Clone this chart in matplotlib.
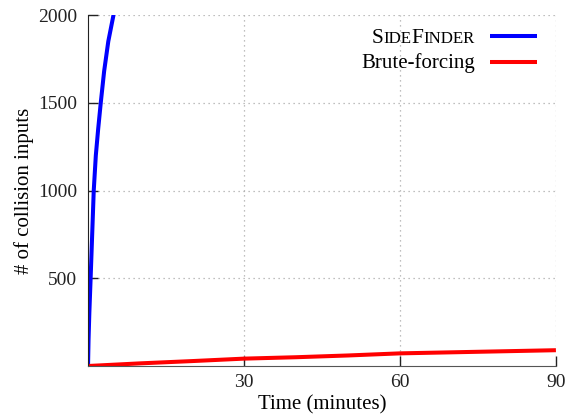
import matplotlib
matplotlib.use("Agg")
import matplotlib.pyplot as plt
import numpy as np

plt.rcParams['font.family'] = ['Liberation Serif', 'DejaVu Serif']

# Data
side_t = [0, 0.1, 0.25, 0.5, 0.8, 1.1, 1.5, 1.95, 2.45, 3.1, 3.9, 4.9, 6.0]
side_n = [0, 150, 300, 500, 750, 1000, 1200, 1350, 1500, 1680, 1850, 2000, 2150]
brute_t = [0, 10, 20, 30, 40, 50, 60, 70, 80, 90]
brute_n = [0, 15, 28, 42, 50, 60, 72, 78, 84, 90]
xticks = [30, 60, 90]
yticks = [500, 1000, 1500, 2000]

fig = plt.figure(figsize=(5.69, 4.17), dpi=100)
ax = fig.add_axes([0.1547, 0.1223, 0.977 - 0.1547, 0.964 - 0.1223])

ax.plot(side_t, side_n, color='#0000ff', lw=2.9, solid_capstyle='butt')
ax.plot(brute_t, brute_n, color='#ff0000', lw=2.9, solid_capstyle='butt')

ax.set_xlim(0, 90)
ax.set_ylim(0, 2000)
ax.set_xticks(xticks)
ax.set_yticks(yticks)
ax.grid(True, linestyle=(0, (1, 3)), color='#aaaaaa', lw=0.9)
for s in ['top', 'right']:
    ax.spines[s].set_visible(False)
ax.spines['left'].set_color('#222222')
ax.spines['bottom'].set_color('#555555')
ax.tick_params(direction='in', length=7, width=1, labelsize=14, colors='#222222')
ax.tick_params(axis='y', pad=8)
ax.tick_params(axis='x', pad=6)
ax.set_xlabel('Time (minutes)', fontsize=15, va='center')
ax.set_ylabel('# of collision inputs', fontsize=15, va='center')
ax.xaxis.set_label_coords(0.501, -0.111)
ax.yaxis.set_label_coords(-0.137, 0.5)

# Legend (manual, to render small caps)
def to_ax(px, py):
    inv = ax.transAxes.inverted()
    disp = fig.transFigure.transform((px / 569, 1 - py / 417))
    return inv.transform(disp)

big, small = 15.5, 12.2
x_end, y1, y2 = 475, 36, 62
parts = [("S", big), ("IDE", small), ("F", big), ("INDER", small)]
fig.canvas.draw()
renderer = fig.canvas.get_renderer()
widths = []
for s, fs in parts:
    t = fig.text(0, 0, s, fontsize=fs)
    bb = t.get_window_extent(renderer)
    widths.append(bb.width)
    t.remove()
total = sum(widths)
xcur = x_end - total
for (s, fs), w in zip(parts, widths):
    fig.text(xcur / 569, 1 - (y1 + 7) / 417, s, fontsize=fs, ha='left', va='baseline')
    xcur += w

fig.text(x_end / 569, 1 - (y2 + 6) / 417, 'Brute-forcing', fontsize=15, ha='right', va='baseline')

for yy, c in [(y1, '#0000ff'), (y2, '#ff0000')]:
    p0 = to_ax(490, yy)
    p1 = to_ax(537, yy)
    ax.plot([p0[0], p1[0]], [p0[1], p1[1]], transform=ax.transAxes, color=c, lw=2.9,
            solid_capstyle='butt', clip_on=False)

fig.savefig('out.png', dpi=100)
